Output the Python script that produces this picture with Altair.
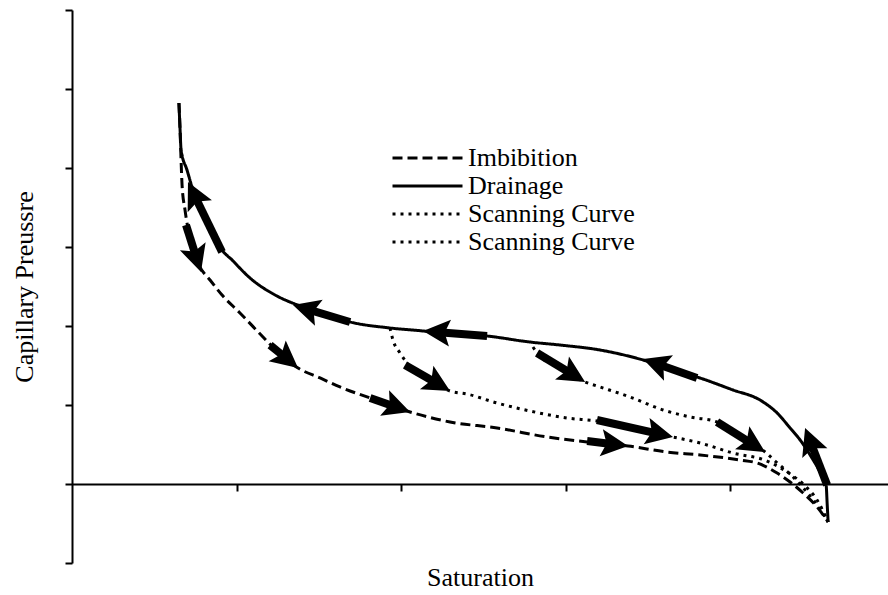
import math

import altair as alt
import pandas as pd

# ---- capillary pressure curves: saturation (x) vs. capillary pressure (y) ----
drainage_s = [0.650, 0.657, 0.663, 0.699, 0.736, 0.778, 0.839, 0.900, 0.979, 1.082,
              1.246, 1.404, 1.568, 1.690, 1.933, 2.134, 2.255, 2.523, 2.784, 2.967,
              3.210, 3.471, 3.696, 3.799, 4.018, 4.182, 4.286, 4.365, 4.426, 4.498,
              4.547, 4.584, 4.590, 4.596]
drainage_p = [4.823, 4.481, 4.228, 3.975, 3.722, 3.532, 3.278, 3.000, 2.823, 2.608,
              2.380, 2.241, 2.127, 2.051, 1.975, 1.937, 1.911, 1.873, 1.797, 1.759,
              1.696, 1.570, 1.418, 1.354, 1.190, 1.063, 0.899, 0.709, 0.557, 0.329,
              0.152, -0.013, -0.241, -0.481]

imbibition_s = [0.650, 0.657, 0.663, 0.669, 0.687, 0.717, 0.772, 0.839, 0.912, 1.021,
                1.161, 1.283, 1.374, 1.508, 1.629, 1.812, 2.055, 2.298, 2.584, 2.888,
                3.131, 3.380, 3.617, 3.818, 4.061, 4.164, 4.286, 4.365, 4.444, 4.529,
                4.596]
imbibition_p = [4.823, 4.481, 4.101, 3.785, 3.468, 3.114, 2.772, 2.582, 2.392, 2.165,
                1.861, 1.608, 1.468, 1.342, 1.228, 1.089, 0.911, 0.785, 0.709, 0.595,
                0.532, 0.481, 0.405, 0.367, 0.304, 0.266, 0.139, 0.025, -0.114, -0.291,
                -0.481]

scan1_s = [1.933, 1.951, 1.994, 2.036, 2.146, 2.298, 2.401, 2.584, 2.784, 3.009,
           3.191, 3.422, 3.653, 3.818, 4.018, 4.225, 4.347, 4.444, 4.529, 4.596]
scan1_p = [1.975, 1.823, 1.658, 1.532, 1.354, 1.177, 1.139, 1.025, 0.924, 0.835,
           0.797, 0.696, 0.595, 0.519, 0.392, 0.291, 0.152, 0.000, -0.203, -0.481]

scan2_s = [2.802, 2.827, 2.967, 3.119, 3.191, 3.392, 3.593, 3.757, 3.921, 4.061,
           4.213, 4.274, 4.383, 4.456, 4.529, 4.596]
scan2_p = [1.734, 1.658, 1.468, 1.291, 1.241, 1.101, 0.937, 0.848, 0.785, 0.595,
           0.405, 0.291, 0.089, -0.076, -0.266, -0.481]

series_names = ["Imbibition", "Drainage", "Scanning Curve 1", "Scanning Curve 2"]

# ---- direction arrows along the curves (tail -> tip) ----
arrow_series = ["Drainage", "Drainage", "Drainage", "Drainage", "Drainage",
                "Imbibition", "Imbibition", "Imbibition", "Imbibition",
                "Scanning Curve 1", "Scanning Curve 1",
                "Scanning Curve 2", "Scanning Curve 2"]
arrow_tail_s = [4.590, 3.799, 2.523, 1.690, 0.912,
                0.693, 1.204, 1.812, 3.131,
                2.024, 3.191,
                2.827, 3.921]
arrow_tail_p = [-0.013, 1.342, 1.873, 2.051, 2.937,
                3.278, 1.759, 1.089, 0.544,
                1.506, 0.810,
                1.658, 0.785]
arrow_tip_s = [4.456, 3.471, 2.134, 1.343, 0.705,
               0.784, 1.374, 2.055, 3.380,
               2.298, 3.653,
               3.119, 4.213]
arrow_tip_p = [0.709, 1.582, 1.937, 2.266, 3.823,
               2.684, 1.468, 0.911, 0.481,
               1.177, 0.595,
               1.291, 0.405]

# ---- layout ----
S_DOMAIN = [0, 4.96]
P_DOMAIN = [-1, 6]
PLOT_W, PLOT_H = 816, 553
FONT = "Liberation Serif"
FONT_SIZE = 26

px_per_s = PLOT_W / (S_DOMAIN[1] - S_DOMAIN[0])
px_per_p = PLOT_H / (P_DOMAIN[1] - P_DOMAIN[0])

# arrowhead: tip at the origin, pointing up, notched back; scaled by sqrt(size)/2
HEAD_PATH = "M0,0L1.0,2L0,1.6L-1.0,2Z"
HEAD_SIZE = 729
HEAD_LEN = math.sqrt(HEAD_SIZE)
BODY_CUT = 0.7 * HEAD_LEN

rows = []
for name, xs, ys in [("Imbibition", imbibition_s, imbibition_p),
                     ("Drainage", drainage_s, drainage_p),
                     ("Scanning Curve 1", scan1_s, scan1_p),
                     ("Scanning Curve 2", scan2_s, scan2_p)]:
    for i, (s, p) in enumerate(zip(xs, ys)):
        rows.append({"series": name, "s": s, "p": p, "order": i})
curves = pd.DataFrame(rows)

arrow_rows = []
for name, ts, tp, hs, hp in zip(arrow_series, arrow_tail_s, arrow_tail_p,
                                arrow_tip_s, arrow_tip_p):
    dx = (hs - ts) * px_per_s
    dy = -(hp - tp) * px_per_p  # screen y grows downward
    length = math.hypot(dx, dy)
    ux, uy = dx / length, dy / length
    angle = math.degrees(math.atan2(dx, -dy)) % 360
    arrow_rows.append({
        "series": name,
        "s": ts, "p": tp,
        "s_end": hs - ux * BODY_CUT / px_per_s,
        "p_end": hp + uy * BODY_CUT / px_per_p,
        "tip_s": hs, "tip_p": hp,
        "angle": angle,
    })
arrows = pd.DataFrame(arrow_rows)

x_scale = alt.Scale(domain=S_DOMAIN, nice=False, zero=False)
y_scale = alt.Scale(domain=P_DOMAIN, nice=False, zero=False)

# the saturation axis crosses at zero pressure
x_axis_offset = -(0 - P_DOMAIN[0]) * px_per_p

x_axis = alt.Axis(values=[1, 2, 3, 4], labels=False, grid=False,
                  ticks=True, tickSize=7, tickWidth=2, tickColor="black",
                  domainColor="black", domainWidth=2, offset=x_axis_offset,
                  titleFont=FONT, titleFontSize=FONT_SIZE, titleFontWeight="normal",
                  titleColor="black", titleBaseline="alphabetic", titleY=101)
y_axis = alt.Axis(values=[-1, 0, 1, 2, 3, 4, 5, 6], labels=False, grid=False,
                  ticks=True, tickSize=7, tickWidth=2, tickColor="black",
                  domainColor="black", domainWidth=2,
                  titleFont=FONT, titleFontSize=FONT_SIZE, titleFontWeight="normal",
                  titleColor="black", titleBaseline="alphabetic", titleX=-40)


def x_enc(field):
    return alt.X(field, type="quantitative", scale=x_scale, axis=x_axis, title="Saturation")


def y_enc(field):
    return alt.Y(field, type="quantitative", scale=y_scale, axis=y_axis,
                 title="Capillary Preussre")


dash_range = [[10, 5], [1, 0], [3, 5], [3, 5]]

lines = alt.Chart(curves).mark_line(
    color="black", strokeWidth=3, strokeCap="butt", interpolate="monotone"
).encode(
    x=x_enc("s"),
    y=y_enc("p"),
    strokeDash=alt.StrokeDash(
        "series:N",
        scale=alt.Scale(domain=series_names, range=dash_range),
        legend=alt.Legend(
            title=None, orient="none", legendX=319, legendY=134,
            symbolType="stroke", symbolSize=4900, symbolStrokeColor="black",
            symbolStrokeWidth=3, clipHeight=28, rowPadding=0, padding=0,
            labelFont=FONT, labelFontSize=FONT_SIZE, labelColor="black",
            labelOffset=4, labelLimit=400,
            labelExpr="indexof(datum.label, 'Scanning') == 0 ? 'Scanning Curve' : datum.label",
        ),
    ),
    detail="series:N",
    order="order:Q",
)

bodies = alt.Chart(arrows).mark_rule(
    color="black", strokeWidth=8, strokeCap="butt"
).encode(
    x=x_enc("s"),
    y=y_enc("p"),
    x2=alt.X2("s_end"),
    y2=alt.Y2("p_end"),
)

heads = alt.Chart(arrows).mark_point(
    shape=HEAD_PATH, filled=True, color="black", opacity=1, size=HEAD_SIZE, strokeWidth=0
).encode(
    x=x_enc("tip_s"),
    y=y_enc("tip_p"),
    angle=alt.Angle("angle:Q", scale=None),
)

chart = alt.layer(lines, bodies, heads).properties(
    width=PLOT_W,
    height=PLOT_H,
    padding={"left": 72, "top": 10, "right": 0, "bottom": 32},
    autosize=alt.AutoSizeParams(type="none"),
    background="white",
).configure_view(stroke=None)

chart.save("out.html", embed_options={"renderer": "svg", "actions": False})
